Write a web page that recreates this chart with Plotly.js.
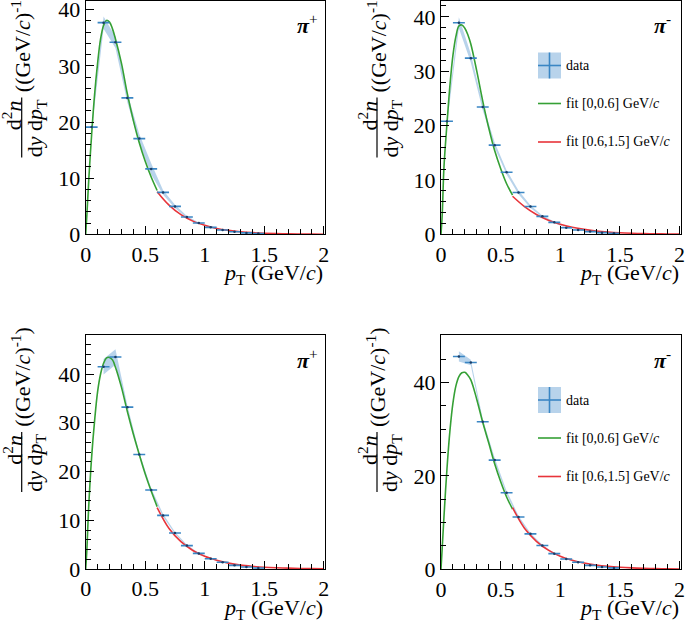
<!DOCTYPE html>
<html>
<head>
<meta charset="utf-8">
<script src="https://cdn.plot.ly/plotly-3.0.1.min.js"></script>
<style>
html,body{margin:0;padding:0;background:#fff;}
#chart{width:685px;height:622px;}
</style>
</head>
<body>
<div id="chart"></div>
<script>
// ---------------- data ----------------
const binCenters = [0.05,0.15,0.25,0.35,0.45,0.55,0.65,0.75,0.85,0.95,1.05,1.15,1.25,1.35,1.45];
const binHalfWidth = [0.05,0.05,0.05,0.05,0.05,0.05,0.05,0.05,0.05,0.05,0.05,0.05,0.05,0.05,0.05];

const p1Values = [19.1,37.7,34.2,24.3,17.05,11.65,7.46,4.97,3.07,2.0,1.24,0.76,0.45,0.25,0.15];
const p1Sys    = [0.6,1.1,1.0,0.8,0.8,1.0,0.4,0.3,0.2,0.12,0.08,0.05,0.03,0.02,0.01];
const p2Values = [20.8,38.9,32.4,23.4,16.4,11.4,7.7,5.1,3.3,2.2,1.2,0.8,0.5,0.3,0.2];
const p2Sys    = [0.6,1.0,0.8,0.6,0.5,0.4,0.35,0.25,0.15,0.1,0.07,0.05,0.03,0.02,0.01];
const p3Values = [null,41.5,43.5,33.2,23.5,16.2,11.0,7.4,4.8,3.2,2.1,1.37,0.75,0.4,0.2];
const p3Sys    = [null,1.6,1.6,0.4,0.4,0.35,0.3,0.2,0.15,0.1,0.07,0.05,0.03,0.02,0.01];
const p4Values = [null,45.6,44.3,31.6,23.4,16.4,11.2,7.6,5.1,3.35,2.2,1.5,0.85,0.5,0.3];
const p4Sys    = [null,1.1,0.6,0.6,0.5,0.4,0.3,0.2,0.15,0.1,0.07,0.05,0.03,0.02,0.01];

const fitLowX  = [0,0.01,0.025,0.05,0.075,0.1,0.125,0.15,0.175,0.2,0.225,0.25,0.3,0.35,0.4,0.45,0.5,0.55,0.6];
const p1FitLow = [0,3.5,9.5,17.8,25.0,30.5,34.8,37.2,38.1,37.8,36.6,34.8,30.5,25.0,20.3,16.3,13.0,10.2,7.8];
const p2FitLow = [0,3.5,12.4,20.3,27.4,32.9,36.4,38.3,38.5,37.9,36.7,35.0,30.0,24.5,19.6,15.4,12.1,9.3,7.2];
const p3FitLow = [0,4.0,12.7,23.0,30.5,36.4,40.0,42.2,43.3,43.4,42.9,41.4,37.3,32.3,27.7,23.5,19.5,16.0,12.8];
const p4FitLow = [0,4.5,11.3,21.5,29.7,35.6,39.3,41.3,42.1,42.2,41.6,40.6,36.4,31.5,27.1,22.6,18.8,15.5,12.9];

const fitHighX  = [0.6,0.7,0.8,0.9,1.0,1.1,1.2,1.3,1.4,1.5,1.6,1.7,1.8,1.9,2.0];
const p1FitHigh = [7.6,5.2,3.5,2.35,1.6,1.05,0.7,0.46,0.3,0.2,0.13,0.08,0.05,0.03,0.02];
const p2FitHigh = [7.0,5.1,3.65,2.6,1.85,1.3,0.9,0.62,0.42,0.28,0.19,0.13,0.09,0.06,0.04];
const p3FitHigh = [12.6,8.3,5.6,3.8,2.6,1.8,1.2,0.8,0.55,0.37,0.25,0.17,0.11,0.07,0.05];
const p4FitHigh = [13.2,8.8,6.0,4.1,2.8,1.95,1.35,0.93,0.64,0.44,0.3,0.2,0.14,0.1,0.07];

const panelLabels = ['π<sup>+</sup>','π<sup>-</sup>','π<sup>+</sup>','π<sup>-</sup>'];
const legendLabels = ['data','fit [0,0.6] GeV/<i>c</i>','fit [0.6,1.5] GeV/<i>c</i>'];
const yRanges = [[0,41.65],[0,43.0],[0,48.0],[0,50.2]];
const yDticks = [10,10,10,20];
const yMinor  = [2,2,2,5];

// ---------------- styling ----------------
const W = 685, H = 622;
const FONT = 'Liberation Serif';
const GREEN = '#35a035', RED = '#e8343a', BAR = '#3a86c4', BAND = 'rgba(160,196,228,0.75)';
const px = v => v / W, py = v => 1 - v / H;

// panel frames in pixels: [left, right, top, bottom]
const frames = [[85.7,325,0.5,234.3],[441,680.7,0.5,234.3],[85.7,325,335,569],[441,680.7,335,569.3]];

const valuesSets = [p1Values,p2Values,p3Values,p4Values];
const sysSets = [p1Sys,p2Sys,p3Sys,p4Sys];
const lowSets = [p1FitLow,p2FitLow,p3FitLow,p4FitLow];
const highSets = [p1FitHigh,p2FitHigh,p3FitHigh,p4FitHigh];

const traces = [];
const layout = {
  width: W, height: H, margin: {l:0,r:0,t:0,b:0},
  paper_bgcolor: '#fff', plot_bgcolor: '#fff', showlegend: false,
  annotations: [], shapes: [], font: {family: FONT, color: '#000'}
};

frames.forEach((f, i) => {
  const n = i === 0 ? '' : String(i + 1);
  const xa = 'x' + n, ya = 'y' + n;
  const [L, R, T, B] = f;
  const mk = () => ({
    showgrid: false, zeroline: false, showline: true, mirror: true,
    linecolor: '#000', linewidth: 1, ticks: 'inside', ticklen: 8, tickwidth: 1, tickcolor: '#000',
    tickfont: {family: FONT, size: 22, color: '#000'}, fixedrange: true,
    ticklabeloverflow: 'allow', automargin: false
  });
  layout['xaxis' + n] = Object.assign(mk(), {
    domain: [px(L), px(R)], anchor: ya, range: [0, 2.01], dtick: 0.5, tick0: 0,
    minor: {dtick: 0.1, ticklen: 5, tickwidth: 1, tickcolor: '#000', ticks: 'inside'}
  });
  layout['yaxis' + n] = Object.assign(mk(), {
    domain: [py(B), py(T)], anchor: xa, range: yRanges[i], dtick: yDticks[i], tick0: 0,
    minor: {dtick: yMinor[i], ticklen: 5, tickwidth: 1, tickcolor: '#000', ticks: 'inside'}
  });

  // systematic band
  const vals = valuesSets[i], sys = sysSets[i];
  const bx = [], bu = [], bl = [];
  binCenters.forEach((c, k) => {
    if (vals[k] !== null) { bx.push(c); bu.push(vals[k] + sys[k]); bl.push(vals[k] - sys[k]); }
  });
  traces.push({x: bx.concat(bx.slice().reverse()), y: bu.concat(bl.slice().reverse()),
    xaxis: xa, yaxis: ya, mode: 'lines', fill: 'toself', fillcolor: BAND,
    line: {width: 0, color: BAND}, hoverinfo: 'skip'});
  // fits
  traces.push({x: fitLowX, y: lowSets[i], xaxis: xa, yaxis: ya, mode: 'lines',
    line: {color: GREEN, width: 1.6, shape: 'spline'}, hoverinfo: 'skip'});
  traces.push({x: fitHighX, y: highSets[i], xaxis: xa, yaxis: ya, mode: 'lines',
    line: {color: RED, width: 1.6, shape: 'spline'}, hoverinfo: 'skip'});
  // data
  traces.push({x: binCenters, y: vals, xaxis: xa, yaxis: ya, mode: 'markers',
    marker: {size: 2.5, color: '#1b3d66'},
    error_x: {type: 'data', array: binHalfWidth, color: BAR, thickness: 1.6, width: 0},
    hoverinfo: 'skip'});

  // y-axis title: fraction + units, rotated
  const ann = layout.annotations, shp = layout.shapes;
  const F = {family: FONT, size: 22, color: '#000'};
  ann.push({xref:'paper', yref:'paper', x: px(L - 73), y: py(T + 115), showarrow: false,
    textangle: -90, xanchor: 'center', yanchor: 'middle',
    text: 'd<sup>2</sup><i>n</i>', font: F});
  ann.push({xref:'paper', yref:'paper', x: px(L - 50), y: py(T + 128), showarrow: false,
    textangle: -90, xanchor: 'center', yanchor: 'middle',
    text: 'd<i>y</i> d<i>p</i><sub>T</sub>', font: F});
  shp.push({type: 'line', xref: 'paper', yref: 'paper', x0: px(L - 64), x1: px(L - 64),
    y0: py(T + 97), y1: py(T + 157), line: {color: '#000', width: 1.2}});
  ann.push({xref:'paper', yref:'paper', x: px(L - 65), y: py(T + 42), showarrow: false,
    textangle: -90, xanchor: 'center', yanchor: 'middle',
    text: '((GeV/<i>c</i>)<sup>-1</sup>)', font: F});

  // x-axis title
  ann.push({xref:'paper', yref:'paper', x: px(R), y: py(B + 40), showarrow: false,
    xanchor: 'right', yanchor: 'middle',
    text: '<i>p</i><sub>T</sub> (GeV/<i>c</i>)', font: F});

  // particle label
  ann.push({xref:'paper', yref:'paper', x: px(R - 18), y: py(T + 24), showarrow: false,
    xanchor: 'center', yanchor: 'middle',
    text: '<b><i>' + panelLabels[i].replace('<sup>', '</i></b><sup>'), font: F});

  // legend in right-hand panels
  if (i === 1 || i === 3) {
    const lx0 = 538, lx1 = 561;
    shp.push({type: 'rect', xref:'paper', yref:'paper', x0: px(lx0), x1: px(lx1),
      y0: py(T + 52), y1: py(T + 78), fillcolor: BAND, line: {width: 0}});
    shp.push({type: 'line', xref:'paper', yref:'paper', x0: px(lx0), x1: px(lx1),
      y0: py(T + 65), y1: py(T + 65), line: {color: BAR, width: 1.6}});
    shp.push({type: 'line', xref:'paper', yref:'paper', x0: px((lx0 + lx1) / 2), x1: px((lx0 + lx1) / 2),
      y0: py(T + 52), y1: py(T + 78), line: {color: BAR, width: 1.6}});
    shp.push({type: 'line', xref:'paper', yref:'paper', x0: px(lx0), x1: px(lx1),
      y0: py(T + 103), y1: py(T + 103), line: {color: GREEN, width: 1.6}});
    shp.push({type: 'line', xref:'paper', yref:'paper', x0: px(lx0), x1: px(lx1),
      y0: py(T + 141.5), y1: py(T + 141.5), line: {color: RED, width: 1.6}});
    [65, 103, 141.5].forEach((dy, k) => {
      ann.push({xref:'paper', yref:'paper', x: px(564), y: py(T + dy), showarrow: false,
        xanchor: 'left', yanchor: 'middle', text: legendLabels[k],
        font: {family: FONT, size: 14, color: '#000'}});
    });
  }
});

Plotly.newPlot('chart', traces, layout, {displayModeBar: false});
</script>
</body>
</html>
